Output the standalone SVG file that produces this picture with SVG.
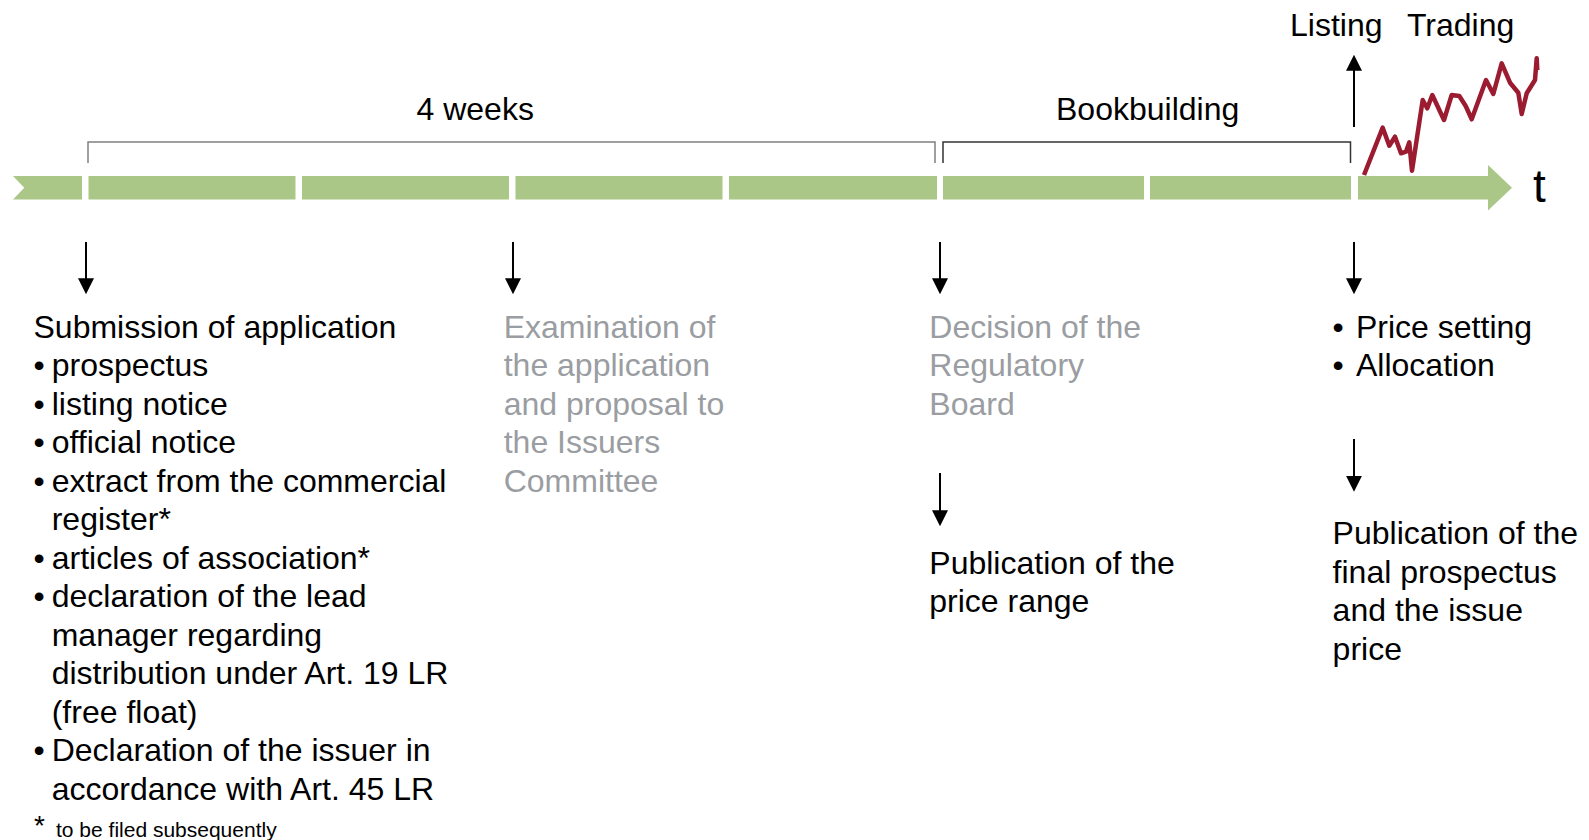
<svg xmlns="http://www.w3.org/2000/svg" width="1589" height="840" viewBox="0 0 1589 840">
<style>
text{font-family:"Liberation Sans",Arial,sans-serif;font-size:32px;fill:#000}
.gray{fill:#9a9da1}
.seg{fill:#abc788}
.arr{stroke:#000;stroke-width:2;fill:none}
.small{font-size:21px}
</style>
<defs>
<marker id="ah" markerUnits="userSpaceOnUse" markerWidth="16" markerHeight="16" viewBox="0 0 15 15" refX="12" refY="7.5" orient="auto">
<path d="M0,0 L15,7.5 L0,15 Z" fill="#000"/>
</marker>
</defs>
<rect width="1589" height="840" fill="#fff"/>

<g id="timeline">
<polygon class="seg" points="13,176 82,176 82,199.5 13,199.5 24.3,187.75"/>
<rect class="seg" x="88.5" y="176" width="207" height="23.5"/>
<rect class="seg" x="302" y="176" width="207" height="23.5"/>
<rect class="seg" x="515.5" y="176" width="207" height="23.5"/>
<rect class="seg" x="729" y="176" width="208" height="23.5"/>
<rect class="seg" x="943" y="176" width="201" height="23.5"/>
<rect class="seg" x="1150" y="176" width="201" height="23.5"/>
<polygon class="seg" points="1358,176 1488,176 1488,165 1512,187.75 1488,210.5 1488,199.5 1358,199.5"/>
<text x="1533" y="201.5" style="font-size:46px">t</text>
</g>

<g id="brackets">
<path d="M88,163 V142 H935 V163" fill="none" stroke="#808080" stroke-width="1.5"/>
<path d="M943,163 V142 H1350.5 V163" fill="none" stroke="#333" stroke-width="1.5"/>
<text x="416.5" y="119.5">4 weeks</text>
<text x="1056" y="119.5">Bookbuilding</text>
</g>

<g id="trading">
<text x="1290" y="36">Listing</text>
<text x="1407" y="36">Trading</text>
<polyline fill="none" stroke="#9b1b30" stroke-width="4.5" stroke-linejoin="round" points="1364,175 1382.7,127.7 1389.3,145.7 1395,136.7 1401,153.3 1406,151.7 1409.3,142.3 1412,170.7 1422.7,100 1427.3,108.3 1432.3,95 1444,120 1451.7,95 1459.3,96 1465.7,106 1471.7,119.3 1486,80 1493.3,94 1501.7,63.3 1510,82.7 1518.3,92.7 1521.7,114 1526.7,93.3 1535,80 1536.7,58.3 1537.3,70"/>
</g>

<g id="connectors">
<line class="arr" x1="1354" y1="127" x2="1354" y2="58" marker-end="url(#ah)"/>
<line class="arr" x1="86" y1="242" x2="86" y2="291" marker-end="url(#ah)"/>
<line class="arr" x1="513" y1="242" x2="513" y2="291" marker-end="url(#ah)"/>
<line class="arr" x1="940" y1="242" x2="940" y2="291" marker-end="url(#ah)"/>
<line class="arr" x1="1354" y1="242" x2="1354" y2="291" marker-end="url(#ah)"/>
<line class="arr" x1="940" y1="473" x2="940" y2="523" marker-end="url(#ah)"/>
<line class="arr" x1="1354" y1="439" x2="1354" y2="488.5" marker-end="url(#ah)"/>
</g>

<g id="node-submission">
<text x="33.5" y="337.5">Submission of application</text>
<text x="33.5" y="376">•</text><text x="51.7" y="376">prospectus</text>
<text x="33.5" y="414.5">•</text><text x="51.7" y="414.5">listing notice</text>
<text x="33.5" y="453">•</text><text x="51.7" y="453">official notice</text>
<text x="33.5" y="491.5">•</text><text x="51.7" y="491.5">extract from the commercial</text>
<text x="51.7" y="530">register*</text>
<text x="33.5" y="568.5">•</text><text x="51.7" y="568.5">articles of association*</text>
<text x="33.5" y="607">•</text><text x="51.7" y="607">declaration of the lead</text>
<text x="51.7" y="645.5">manager regarding</text>
<text x="51.7" y="684">distribution under Art. 19 LR</text>
<text x="51.7" y="722.5">(free float)</text>
<text x="33.5" y="761">•</text><text x="51.7" y="761">Declaration of the issuer in</text>
<text x="51.7" y="799.5">accordance with Art. 45 LR</text>
<text x="34" y="835" style="font-size:28px">*</text>
<text class="small" x="56" y="837">to be filed subsequently</text>
</g>

<g id="node-examination">
<text class="gray" x="503.7" y="337.5">Examination of</text>
<text class="gray" x="503.7" y="376">the application</text>
<text class="gray" x="503.7" y="414.5">and proposal to</text>
<text class="gray" x="503.7" y="453">the Issuers</text>
<text class="gray" x="503.7" y="491.5">Committee</text>
</g>

<g id="node-decision">
<text class="gray" x="929.3" y="337.5">Decision of the</text>
<text class="gray" x="929.3" y="376">Regulatory</text>
<text class="gray" x="929.3" y="414.5">Board</text>
</g>

<g id="node-price-range">
<text x="929.3" y="573.6">Publication of the</text>
<text x="929.3" y="612">price range</text>
</g>

<g id="node-price-setting">
<text x="1332.6" y="337.5">•</text><text x="1356" y="337.5">Price setting</text>
<text x="1332.6" y="376">•</text><text x="1356" y="376">Allocation</text>
</g>

<g id="node-final">
<text x="1332.6" y="544">Publication of the</text>
<text x="1332.6" y="582.5">final prospectus</text>
<text x="1332.6" y="621">and the issue</text>
<text x="1332.6" y="659.5">price</text>
</g>
</svg>
